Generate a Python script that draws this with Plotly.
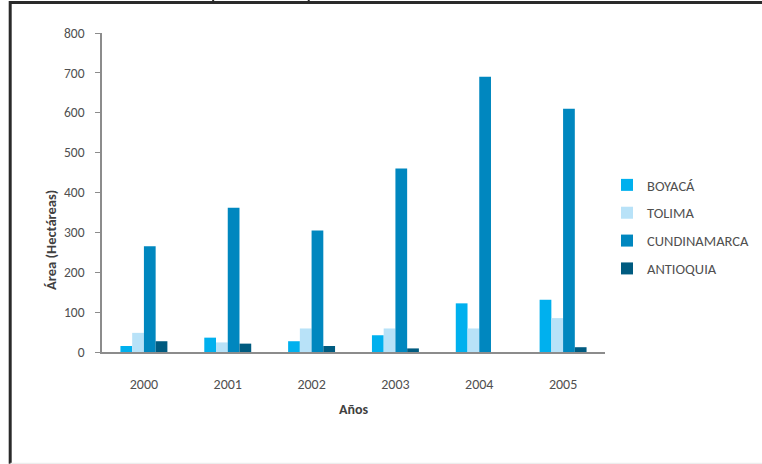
import plotly.graph_objects as go

years = ["2000", "2001", "2002", "2003", "2004", "2005"]
boyaca = [15, 36, 27, 42, 122, 131]
tolima = [48, 24, 59, 59, 59, 85]
cundinamarca = [265, 362, 305, 460, 690, 610]
antioquia = [27, 21, 15, 9, 0, 12]

series = [
    ("BOYACÁ", boyaca, "#00B0EE"),
    ("TOLIMA", tolima, "#B8E2F8"),
    ("CUNDINAMARCA", cundinamarca, "#0087BF"),
    ("ANTIOQUIA", antioquia, "#005B80"),
]

FONT = "Carlito, Lato, 'Open Sans', sans-serif"
TXT = "#505050"

fig = go.Figure()
for i, (name, vals, col) in enumerate(series):
    fig.add_trace(go.Bar(x=years, y=vals, name=name, marker=dict(color=col, line=dict(width=0)),
                         legendgroup=f"g{i}"))

fig.update_layout(
    width=762, height=464,
    margin=dict(l=102, r=157, t=33, b=112, autoexpand=False),
    paper_bgcolor="white", plot_bgcolor="white",
    barmode="group", bargap=0.44, bargroupgap=0,
    font=dict(family=FONT, size=14, color=TXT),
    showlegend=True,
    legend=dict(x=1.004, y=0.392, xanchor="left", yanchor="middle",
                font=dict(size=14.5, color=TXT),
                tracegroupgap=6, traceorder="grouped", itemwidth=30,
                bgcolor="rgba(0,0,0,0)"),
    xaxis=dict(showline=True, linecolor="#8C8C8C", linewidth=1.5, ticks="",
               showgrid=False, ticklabelstandoff=18, automargin=False,
               tickfont=dict(size=14, color=TXT)),
    yaxis=dict(range=[0, 800], dtick=100, showline=True, linecolor="#8C8C8C", linewidth=1.5,
               ticks="outside", ticklen=5, tickcolor="#8C8C8C", showgrid=False,
               zeroline=False, ticklabelstandoff=8, automargin=False,
               tickfont=dict(size=13.5, color=TXT)),
)

fig.add_annotation(text="<b>Años</b>", xref="paper", yref="paper", x=0.501, y=-0.179,
                   yanchor="middle", showarrow=False, font=dict(size=14, color="#404040"))
fig.add_annotation(text="<b>Área (Hectáreas)</b>", xref="paper", yref="paper", x=-0.1014, y=0.351,
                   xanchor="center", yanchor="middle", textangle=-90, showarrow=False,
                   font=dict(size=14.5, color="#404040"))

# surrounding frame (cut-off chart box)
fig.add_shape(type="line", xref="paper", yref="paper", x0=-0.182, x1=1.32, y0=1.096, y1=1.096,
              line=dict(color="#2A2A2A", width=3))
fig.add_shape(type="line", xref="paper", yref="paper", x0=-0.1825, x1=-0.1825, y0=1.1, y1=-0.35,
              line=dict(color="#2A2A2A", width=3))
fig.add_shape(type="line", xref="paper", yref="paper", x0=-0.182, x1=1.32, y0=-0.352, y1=-0.352,
              line=dict(color="#EDEDED", width=3))
for xp in [0.221, 0.411]:
    fig.add_shape(type="line", xref="paper", yref="paper", x0=xp, x1=xp, y0=1.1, y1=1.105,
                  line=dict(color="#2A2A2A", width=2))

fig.write_html("out.html")
